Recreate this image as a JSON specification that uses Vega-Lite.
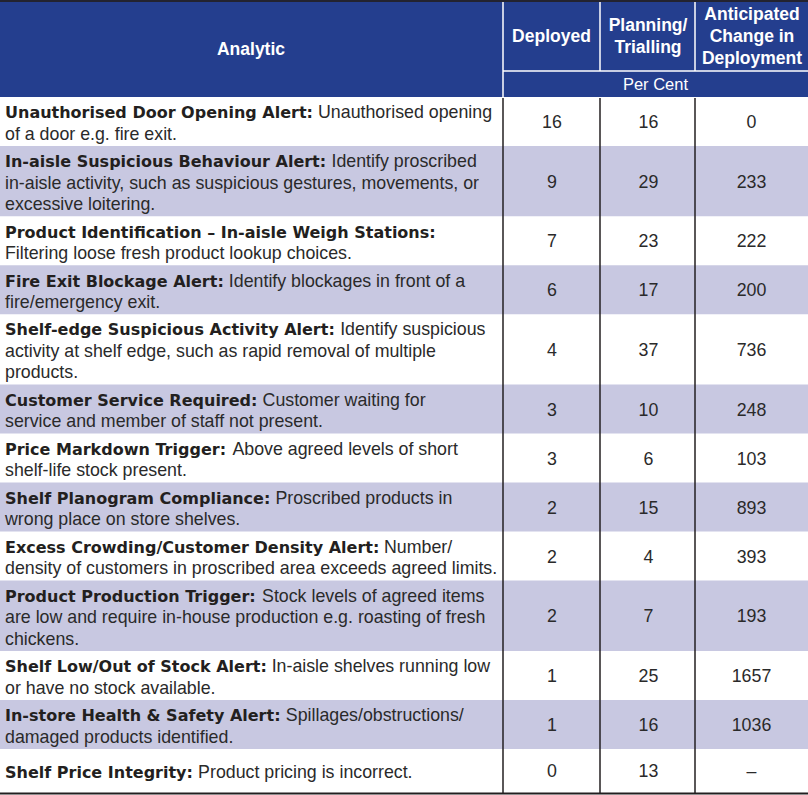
{
  "$schema": "https://vega.github.io/schema/vega-lite/v6.json",
  "width": 808,
  "height": 795,
  "autosize": {"type": "none"},
  "padding": 0,
  "background": "white",
  "config": {"view": {"stroke": null}},
  "datasets": {
    "rows": [
      {"title": "Unauthorised Door Opening Alert:", "d1": "Unauthorised opening", "d2": "of a door e.g. fire exit.", "d3": "", "deployed": 16, "planning": 16, "change": 0},
      {"title": "In-aisle Suspicious Behaviour Alert:", "d1": "Identify proscribed", "d2": "in-aisle activity, such as suspicious gestures, movements, or", "d3": "excessive loitering.", "deployed": 9, "planning": 29, "change": 233},
      {"title": "Product Identification – In-aisle Weigh Stations:", "d1": "", "d2": "Filtering loose fresh product lookup choices.", "d3": "", "deployed": 7, "planning": 23, "change": 222},
      {"title": "Fire Exit Blockage Alert:", "d1": "Identify blockages in front of a", "d2": "fire/emergency exit.", "d3": "", "deployed": 6, "planning": 17, "change": 200},
      {"title": "Shelf-edge Suspicious Activity Alert:", "d1": "Identify suspicious", "d2": "activity at shelf edge, such as rapid removal of multiple", "d3": "products.", "deployed": 4, "planning": 37, "change": 736},
      {"title": "Customer Service Required:", "d1": "Customer waiting for", "d2": "service and member of staff not present.", "d3": "", "deployed": 3, "planning": 10, "change": 248},
      {"title": "Price Markdown Trigger:", "d1": "Above agreed levels of short", "d2": "shelf-life stock present.", "d3": "", "deployed": 3, "planning": 6, "change": 103},
      {"title": "Shelf Planogram Compliance:", "d1": "Proscribed products in", "d2": "wrong place on store shelves.", "d3": "", "deployed": 2, "planning": 15, "change": 893},
      {"title": "Excess Crowding/Customer Density Alert:", "d1": "Number/", "d2": "density of customers in proscribed area exceeds agreed limits.", "d3": "", "deployed": 2, "planning": 4, "change": 393},
      {"title": "Product Production Trigger:", "d1": "Stock levels of agreed items", "d2": "are low and require in-house production e.g. roasting of fresh", "d3": "chickens.", "deployed": 2, "planning": 7, "change": 193},
      {"title": "Shelf Low/Out of Stock Alert:", "d1": "In-aisle shelves running low", "d2": "or have no stock available.", "d3": "", "deployed": 1, "planning": 25, "change": 1657},
      {"title": "In-store Health & Safety Alert:", "d1": "Spillages/obstructions/", "d2": "damaged products identified.", "d3": "", "deployed": 1, "planning": 16, "change": 1036},
      {"title": "Shelf Price Integrity:", "d1": "Product pricing is incorrect.", "d2": "", "d3": "", "deployed": 0, "planning": 13, "change": null}
    ],
    "cols": [
      {"col": "Analytic"},
      {"col": "Deployed"},
      {"col": "Planning/\nTrialling"},
      {"col": "Anticipated\nChange in\nDeployment"}
    ]
  },
  "data": {"name": "rows"},
  "transform": [
    {"window": [{"op": "row_number", "as": "idx"}]},
    {"calculate": "1 + (datum.d2 ? 1 : 0) + (datum.d3 ? 1 : 0)", "as": "lines"},
    {"calculate": "datum.lines == 1 ? 44 : datum.lines * 21.3 + 6.4", "as": "h"},
    {"window": [{"op": "sum", "field": "h", "as": "cum"}], "sort": [{"field": "idx"}], "frame": [null, 0]},
    {"calculate": "97 + datum.cum", "as": "y1"},
    {"calculate": "datum.y1 - datum.h", "as": "y0"},
    {"calculate": "(datum.y0 + datum.y1) / 2", "as": "yc"},
    {"calculate": "datum.yc - (datum.lines - 1) * 10.75 + 7.5", "as": "base"},
    {"calculate": "datum.base + 21.5", "as": "base2"},
    {"calculate": "datum.base + 43", "as": "base3"},
    {"calculate": "16/1000*(343*length(replace(datum.title,regexp('[^ijl]','g'),''))+372*length(replace(datum.title,regexp('[^IJ]','g'),''))+348*length(replace(datum.title,regexp('[^ ]','g'),''))+380*length(replace(datum.title,regexp('[^.]','g'),''))+400*length(replace(datum.title,regexp('[^:]','g'),''))+365*length(replace(datum.title,regexp('[^/]','g'),''))+415*length(replace(datum.title,regexp('[^-]','g'),''))+435*length(replace(datum.title,regexp('[^f]','g'),''))+478*length(replace(datum.title,regexp('[^t]','g'),''))+493*length(replace(datum.title,regexp('[^r]','g'),''))+592*length(replace(datum.title,regexp('[^csz]','g'),''))+652*length(replace(datum.title,regexp('[^kvyxL]','g'),''))+681*length(replace(datum.title,regexp('[^aeoEFT–]','g'),''))+714*length(replace(datum.title,regexp('[^bdgpqhnu]','g'),''))+727*length(replace(datum.title,regexp('[^SYZPC]','g'),''))+771*length(replace(datum.title,regexp('[^BRXVAK]','g'),''))+834*length(replace(datum.title,regexp('[^UGDHNOQ]','g'),''))+1042*length(replace(datum.title,regexp('[^m]','g'),''))+995*length(replace(datum.title,regexp('[^M]','g'),''))+924*length(replace(datum.title,regexp('[^w]','g'),''))+1103*length(replace(datum.title,regexp('[^W]','g'),''))+872*length(replace(datum.title,regexp('[^&]','g'),'')))", "as": "bw"},
    {"calculate": "5 + datum.bw + 5", "as": "xr"}
  ],
  "layer": [
    {
      "transform": [{"filter": "datum.idx % 2 == 0"}],
      "mark": {"type": "rect", "fill": "#c8c8e1"},
      "encoding": {
        "x": {"datum": 0, "type": "quantitative", "scale": {"domain": [0, 808], "nice": false, "zero": false}, "axis": null},
        "x2": {"datum": 808},
        "y": {"field": "y0", "type": "quantitative", "scale": {"domain": [0, 795], "nice": false, "zero": false, "reverse": true}, "axis": null},
        "y2": {"field": "y1"}
      }
    },
    {
      "data": {"name": "cols"},
      "transform": [
        {"window": [{"op": "row_number", "as": "ci"}]},
        {"calculate": "datum.ci == 1 ? 0 : datum.ci == 2 ? 503 : datum.ci == 3 ? 600 : 695", "as": "left"},
        {"calculate": "datum.ci == 1 ? 503 : datum.ci == 2 ? 600 : datum.ci == 3 ? 695 : 808", "as": "right"}
      ],
      "mark": {"type": "rect", "fill": "#243e8e"},
      "encoding": {
        "x": {"field": "left", "type": "quantitative", "scale": {"domain": [0, 808], "nice": false, "zero": false}, "axis": null},
        "x2": {"field": "right"},
        "y": {"datum": 0, "type": "quantitative", "scale": {"domain": [0, 795], "nice": false, "zero": false, "reverse": true}, "axis": null},
        "y2": {"datum": 97}
      }
    },
    {
      "data": {"name": "cols"},
      "transform": [
        {"window": [{"op": "row_number", "as": "ci"}]},
        {"filter": "datum.ci > 1"},
        {"calculate": "datum.ci == 2 ? 503 : datum.ci == 3 ? 600 : 695", "as": "left"},
        {"calculate": "2", "as": "top"},
        {"calculate": "datum.ci == 2 ? 97 : 71", "as": "bottom"}
      ],
      "mark": {"type": "rule", "stroke": "white", "strokeWidth": 1.5},
      "encoding": {
        "x": {"field": "left", "type": "quantitative", "scale": {"domain": [0, 808], "nice": false, "zero": false}, "axis": null},
        "y": {"field": "top", "type": "quantitative", "scale": {"domain": [0, 795], "nice": false, "zero": false, "reverse": true}, "axis": null},
        "y2": {"field": "bottom"}
      }
    },
    {
      "data": {"name": "cols"},
      "transform": [
        {"window": [{"op": "row_number", "as": "ci"}]},
        {"filter": "datum.ci > 1"},
        {"calculate": "datum.ci == 2 ? 503 : datum.ci == 3 ? 600 : 695", "as": "left"}
      ],
      "mark": {"type": "rule", "stroke": "#231f20", "strokeWidth": 1.5},
      "encoding": {
        "x": {"field": "left", "type": "quantitative", "scale": {"domain": [0, 808], "nice": false, "zero": false}, "axis": null},
        "y": {"datum": 98, "type": "quantitative", "scale": {"domain": [0, 795], "nice": false, "zero": false, "reverse": true}, "axis": null},
        "y2": {"datum": 793}
      }
    },
    {
      "data": {"name": "cols"},
      "transform": [
        {"window": [{"op": "row_number", "as": "ci"}]},
        {"filter": "datum.ci == 1"}
      ],
      "mark": {"type": "rule", "stroke": "white", "strokeWidth": 1.5},
      "encoding": {
        "x": {"datum": 503, "type": "quantitative", "scale": {"domain": [0, 808], "nice": false, "zero": false}, "axis": null},
        "x2": {"datum": 808},
        "y": {"datum": 71, "type": "quantitative", "scale": {"domain": [0, 795], "nice": false, "zero": false, "reverse": true}, "axis": null}
      }
    },
    {
      "data": {"name": "cols"},
      "transform": [
        {"window": [{"op": "row_number", "as": "ci"}]},
        {"filter": "datum.ci == 1"}
      ],
      "mark": {"type": "rule", "stroke": "#232330", "strokeWidth": 2},
      "encoding": {
        "x": {"datum": 0, "type": "quantitative", "scale": {"domain": [0, 808], "nice": false, "zero": false}, "axis": null},
        "x2": {"datum": 808},
        "y": {"datum": 1, "type": "quantitative", "scale": {"domain": [0, 795], "nice": false, "zero": false, "reverse": true}, "axis": null}
      }
    },
    {
      "data": {"name": "cols"},
      "transform": [
        {"window": [{"op": "row_number", "as": "ci"}]},
        {"filter": "datum.ci == 1"}
      ],
      "mark": {"type": "rule", "stroke": "#231f20", "strokeWidth": 2},
      "encoding": {
        "x": {"datum": 0, "type": "quantitative", "scale": {"domain": [0, 808], "nice": false, "zero": false}, "axis": null},
        "x2": {"datum": 808},
        "y": {"datum": 793.5, "type": "quantitative", "scale": {"domain": [0, 795], "nice": false, "zero": false, "reverse": true}, "axis": null}
      }
    },
    {
      "data": {"name": "cols"},
      "transform": [
        {"window": [{"op": "row_number", "as": "ci"}]},
        {"calculate": "datum.ci == 1 ? 251 : datum.ci == 2 ? 551.5 : datum.ci == 3 ? 648 : 752", "as": "cx"},
        {"calculate": "length(replace(datum.col, regexp('[^\\n]','g'), '')) + 1", "as": "nl"},
        {"calculate": "(datum.ci == 1 ? 50 : 37) - (datum.nl - 1) * 11", "as": "cy"}
      ],
      "mark": {"type": "text", "font": "Liberation Sans", "fontWeight": "bold", "fontSize": 17.5, "fill": "white", "align": "center", "baseline": "middle", "lineBreak": "\n", "lineHeight": 22},
      "encoding": {
        "x": {"field": "cx", "type": "quantitative", "scale": {"domain": [0, 808], "nice": false, "zero": false}, "axis": null},
        "y": {"field": "cy", "type": "quantitative", "scale": {"domain": [0, 795], "nice": false, "zero": false, "reverse": true}, "axis": null},
        "text": {"field": "col"}
      }
    },
    {
      "data": {"values": [{"label": "Per Cent"}]},
      "mark": {"type": "text", "font": "Liberation Sans", "fontSize": 16.5, "fill": "white", "align": "center", "baseline": "middle"},
      "encoding": {
        "x": {"datum": 655.5, "type": "quantitative", "scale": {"domain": [0, 808], "nice": false, "zero": false}, "axis": null},
        "y": {"datum": 85, "type": "quantitative", "scale": {"domain": [0, 795], "nice": false, "zero": false, "reverse": true}, "axis": null},
        "text": {"field": "label"}
      }
    },
    {
      "mark": {"type": "text", "font": "DejaVu Sans", "fontWeight": "bold", "fontSize": 16, "fill": "#231f20", "align": "left", "baseline": "alphabetic"},
      "encoding": {
        "x": {"datum": 5, "type": "quantitative", "scale": {"domain": [0, 808], "nice": false, "zero": false}, "axis": null},
        "y": {"field": "base", "type": "quantitative", "scale": {"domain": [0, 795], "nice": false, "zero": false, "reverse": true}, "axis": null},
        "text": {"field": "title"}
      }
    },
    {
      "transform": [{"filter": "datum.d1 != ''"}],
      "mark": {"type": "text", "font": "Liberation Sans", "fontSize": 17.8, "fill": "#2a2a2a", "align": "left", "baseline": "alphabetic"},
      "encoding": {
        "x": {"field": "xr", "type": "quantitative", "scale": {"domain": [0, 808], "nice": false, "zero": false}, "axis": null},
        "y": {"field": "base", "type": "quantitative", "scale": {"domain": [0, 795], "nice": false, "zero": false, "reverse": true}, "axis": null},
        "text": {"field": "d1"}
      }
    },
    {
      "transform": [{"filter": "datum.d2 != ''"}],
      "mark": {"type": "text", "font": "Liberation Sans", "fontSize": 17.8, "fill": "#2a2a2a", "align": "left", "baseline": "alphabetic"},
      "encoding": {
        "x": {"datum": 5, "type": "quantitative", "scale": {"domain": [0, 808], "nice": false, "zero": false}, "axis": null},
        "y": {"field": "base2", "type": "quantitative", "scale": {"domain": [0, 795], "nice": false, "zero": false, "reverse": true}, "axis": null},
        "text": {"field": "d2"}
      }
    },
    {
      "transform": [{"filter": "datum.d3 != ''"}],
      "mark": {"type": "text", "font": "Liberation Sans", "fontSize": 17.8, "fill": "#2a2a2a", "align": "left", "baseline": "alphabetic"},
      "encoding": {
        "x": {"datum": 5, "type": "quantitative", "scale": {"domain": [0, 808], "nice": false, "zero": false}, "axis": null},
        "y": {"field": "base3", "type": "quantitative", "scale": {"domain": [0, 795], "nice": false, "zero": false, "reverse": true}, "axis": null},
        "text": {"field": "d3"}
      }
    },
    {
      "transform": [
        {"calculate": "'' + datum.deployed", "as": "Deployed"},
        {"calculate": "'' + datum.planning", "as": "Planning"},
        {"calculate": "datum.change === null ? '–' : '' + datum.change", "as": "Change"},
        {"fold": ["Deployed", "Planning", "Change"], "as": ["col", "val"]},
        {"calculate": "datum.col == 'Deployed' ? 552 : datum.col == 'Planning' ? 648.5 : 751.5", "as": "nx"},
        {"calculate": "datum.yc + 6.4", "as": "ny"}
      ],
      "mark": {"type": "text", "font": "Liberation Sans", "fontSize": 17.8, "fill": "#2a2a2a", "align": "center", "baseline": "alphabetic"},
      "encoding": {
        "x": {"field": "nx", "type": "quantitative", "scale": {"domain": [0, 808], "nice": false, "zero": false}, "axis": null},
        "y": {"field": "ny", "type": "quantitative", "scale": {"domain": [0, 795], "nice": false, "zero": false, "reverse": true}, "axis": null},
        "text": {"field": "val", "type": "nominal"}
      }
    }
  ]
}
